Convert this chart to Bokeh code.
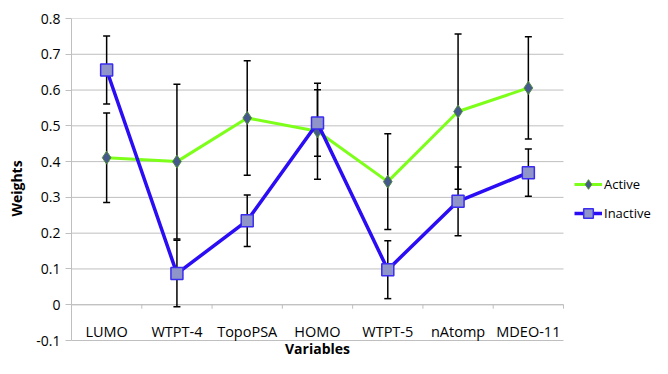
from bokeh.plotting import figure
from bokeh.models import (ColumnDataSource, FixedTicker, Legend, LegendItem)
from bokeh.core.properties import value
from bokeh.embed import file_html
from bokeh.resources import INLINE

categories = ["LUMO", "WTPT-4", "TopoPSA", "HOMO", "WTPT-5", "nAtomp", "MDEO-11"]
active = [0.411, 0.400, 0.522, 0.485, 0.344, 0.540, 0.606]
active_err = [0.125, 0.216, 0.160, 0.134, 0.134, 0.217, 0.143]
inactive = [0.656, 0.087, 0.235, 0.508, 0.098, 0.289, 0.369]
inactive_err = [0.095, 0.093, 0.072, 0.093, 0.081, 0.096, 0.066]
y_ticks = [-0.1, 0, 0.1, 0.2, 0.3, 0.4, 0.5, 0.6, 0.7, 0.8]
y_tick_labels = ["-0.1", "0", "0.1", "0.2", "0.3", "0.4", "0.5", "0.6", "0.7", "0.8"]

FONT = "Open Sans"
GRID = "#bfbfbf"
n = len(categories)
xs = [i + 0.5 for i in range(n)]

W, H = 652, 358
LEFT, TOP = 71, 18
PLOT_W, PLOT_H = 492, 322            # pixel size of the gridded area
x_end = n * (W - LEFT) / PLOT_W      # frame extends right to hold the legend
span = y_ticks[-1] - y_ticks[0]
y_start = y_ticks[0] - (H - TOP - PLOT_H) * span / PLOT_H   # room for the x title
px = span / PLOT_H                   # data units per pixel

src = ColumnDataSource(dict(
    x=xs, cat=categories,
    a=active, a_lo=[v - e for v, e in zip(active, active_err)],
    a_hi=[v + e for v, e in zip(active, active_err)],
    b=inactive, b_lo=[v - e for v, e in zip(inactive, inactive_err)],
    b_hi=[v + e for v, e in zip(inactive, inactive_err)],
    lab_y=[-0.074] * n,
))

p = figure(width=W, height=H, x_range=(0, x_end), y_range=(y_start, y_ticks[-1]),
           output_backend="svg", toolbar_location=None,
           min_border_left=LEFT, min_border_right=0, min_border_top=TOP,
           min_border_bottom=0)
p.outline_line_color = None
p.xgrid.visible = False
p.ygrid.visible = False
p.xaxis.visible = False

ticker = FixedTicker(ticks=y_ticks)
yax = p.yaxis[0]
yax.ticker = ticker
yax.bounds = (y_ticks[0], y_ticks[-1])
yax.major_label_overrides = {t: l for t, l in zip(y_ticks, y_tick_labels)}
yax.major_tick_in = 0
yax.major_tick_out = 6
yax.minor_tick_line_color = None
yax.axis_line_color = GRID
yax.major_tick_line_color = GRID
yax.major_label_text_font = FONT
yax.major_label_text_font_size = "14px"
yax.major_label_text_color = "black"
yax.major_label_standoff = 5
yax.axis_label = "Weights"
yax.axis_label_standoff = 7
yax.axis_label_text_font = FONT
yax.axis_label_text_font_size = "14px"
yax.axis_label_text_font_style = "bold"
yax.axis_label_text_color = "black"

# horizontal gridlines over the category area only
p.segment(x0=[0] * len(y_ticks), y0=y_ticks, x1=[n] * len(y_ticks), y1=y_ticks,
          line_color=GRID, line_width=1)

# category axis at y = 0
p.segment(x0=0, y0=0, x1=n, y1=0, line_color=GRID, line_width=1)
p.segment(x0=list(range(n + 1)), y0=[0] * (n + 1), x1=list(range(n + 1)),
          y1=[-4 * px] * (n + 1), line_color=GRID, line_width=1)
p.text(x="x", y="lab_y", text="cat", source=src, text_align="center",
       text_baseline="middle", text_font=value(FONT), text_font_size="14.5px",
       text_color="black")
p.text(x=[n / 2], y=[y_start + 1 * px], text=["Variables"], text_align="center",
       text_baseline="bottom", text_font=value(FONT), text_font_size="14px",
       text_font_style="bold", text_color="black")

# error bars
for lo, hi in (("a_lo", "a_hi"), ("b_lo", "b_hi")):
    p.segment(x0="x", y0=lo, x1="x", y1=hi, source=src, line_color="black", line_width=1.5)
    p.scatter(x="x", y=lo, source=src, marker="dash", size=7, line_color="black", line_width=1.5)
    p.scatter(x="x", y=hi, source=src, marker="dash", size=7, line_color="black", line_width=1.5)

la = p.line(x="x", y="a", source=src, line_color="#7dff1a", line_width=3)
sa = p.scatter(x="x", y="a", source=src, marker="diamond", size=13,
               fill_color="#46598c", line_color="#4f8a3a", line_width=1)
lb = p.line(x="x", y="b", source=src, line_color="#2a0cf5", line_width=3.5)
sb = p.scatter(x="x", y="b", source=src, marker="square", size=12,
               fill_color="#8f95c9", line_color="#3a2cf0", line_width=1.5)

legend = Legend(items=[LegendItem(label="Active", renderers=[la, sa]),
                       LegendItem(label="Inactive", renderers=[lb, sb])],
                location=(503, 133), border_line_color=None, background_fill_alpha=0,
                glyph_width=28, glyph_height=24, label_standoff=2, padding=0, margin=0,
                spacing=5, label_text_font=FONT, label_text_font_size="13px",
                label_text_color="black")
p.add_layout(legend, "center")

open("out.html", "w").write(file_html(p, INLINE))
